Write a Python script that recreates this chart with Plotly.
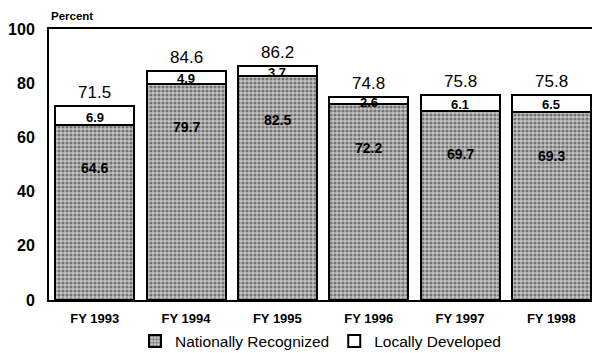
import plotly.graph_objects as go

years = ["FY 1993", "FY 1994", "FY 1995", "FY 1996", "FY 1997", "FY 1998"]
national = [64.6, 79.7, 82.5, 72.2, 69.7, 69.3]
local = [6.9, 4.9, 3.7, 2.6, 6.1, 6.5]
totals = [71.5, 84.6, 86.2, 74.8, 75.8, 75.8]
y_ticks = [0, 20, 40, 60, 80, 100]

FONT = "Liberation Sans, Arial, sans-serif"
xs = list(range(len(years)))

fig = go.Figure()
fig.add_trace(go.Bar(
    x=xs, y=national, name="Nationally Recognized", width=0.865,
    marker=dict(color="#8f8f8f", line=dict(color="black", width=2),
                pattern=dict(shape=".", fgcolor="#222222", bgcolor="#c4c4c4",
                             size=4, solidity=0.5)),
))
fig.add_trace(go.Bar(
    x=xs, y=local, name="Locally Developed", width=0.865,
    marker=dict(color="white", line=dict(color="black", width=2)),
))

ann = []
for i in xs:
    ann.append(dict(x=i, y=totals[i], yshift=13.5, text=f"{totals[i]:.1f}", showarrow=False,
                    font=dict(family=FONT, size=17, color="black")))
    ann.append(dict(x=i, y=national[i] + local[i] / 2, yshift=-1.5, text=f"<b>{local[i]:.1f}</b>",
                    showarrow=False, font=dict(family=FONT, size=13, color="black")))
    ann.append(dict(x=i, y=national[i] - 16, text=f"<b>{national[i]:.1f}</b>", showarrow=False,
                    font=dict(family=FONT, size=14, color="black")))
ann.append(dict(xref="paper", yref="paper", x=0, y=1, xanchor="left", yanchor="bottom",
                yshift=5, text="<b>Percent</b>", showarrow=False,
                font=dict(family=FONT, size=11.5, color="black")))

fig.update_layout(
    barmode="stack",
    width=592, height=353,
    margin=dict(l=49, r=0, t=29, b=53, autoexpand=False),
    paper_bgcolor="white", plot_bgcolor="white",
    showlegend=True,
    legend=dict(orientation="h", x=0.5, xanchor="center", y=-0.09, yanchor="top",
                font=dict(family=FONT, size=15.5, color="black"),
                itemwidth=30, tracegroupgap=0, traceorder="normal"),
    annotations=ann,
    font=dict(family=FONT, color="black"),
)
fig.update_xaxes(
    range=[-0.5, 5.445], tickvals=xs, ticktext=[f"<b>{y}</b>" for y in years],
    showline=True, linecolor="black", linewidth=2, mirror=True,
    showgrid=False, ticks="", tickfont=dict(family=FONT, size=13, color="black"),
    ticklabelstandoff=5,
)
fig.update_yaxes(
    range=[0, 100], tickvals=y_ticks, ticktext=[f"<b>{t}</b>" for t in y_ticks],
    showline=True, linecolor="black", linewidth=2,
    showgrid=False, zeroline=False, ticks="",
    tickfont=dict(family=FONT, size=16, color="black"), ticklabelstandoff=9,
)

fig.write_html("out.html")
